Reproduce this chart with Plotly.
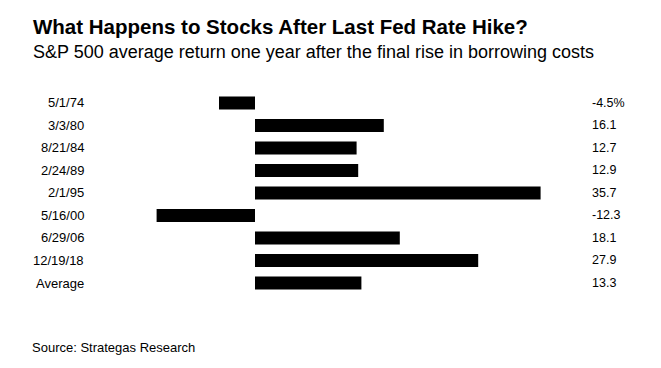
import plotly.graph_objects as go

dates = ["5/1/74", "3/3/80", "8/21/84", "2/24/89", "2/1/95", "5/16/00", "6/29/06", "12/19/18", "Average"]
returns = [-4.5, 16.1, 12.7, 12.9, 35.7, -12.3, 18.1, 27.9, 13.3]
value_labels = ["-4.5%", "16.1", "12.7", "12.9", "35.7", "-12.3", "18.1", "27.9", "13.3"]

W, H = 661, 368
OFF = 8  # page body margin offset
FONT = "Liberation Sans, Arial, sans-serif"


def px(x):
    return (x - OFF) / W


def py(y):
    return 1 - (y - OFF) / H


fig = go.Figure(go.Bar(
    x=returns, y=dates, orientation="h",
    marker=dict(color="#000000", line=dict(width=0)),
    hoverinfo="skip",
))

annotations = []
for d, lab in zip(dates, value_labels):
    annotations.append(dict(x=px(86), xref="paper", y=d, yref="y", text=d, showarrow=False,
                            xanchor="right", yanchor="middle", font=dict(family=FONT, size=13, color="#000")))
    annotations.append(dict(x=px(590), xref="paper", y=d, yref="y", text=lab, showarrow=False,
                            xanchor="left", yanchor="middle", font=dict(family=FONT, size=12.5, color="#000")))

annotations += [
    dict(x=px(31), y=py(26), xref="paper", yref="paper", text="<b>What Happens to Stocks After Last Fed Rate Hike?</b>",
         showarrow=False, xanchor="left", yanchor="middle", font=dict(family=FONT, size=20.5, color="#000")),
    dict(x=px(31), y=py(52), xref="paper", yref="paper", text="S&P 500 average return one year after the final rise in borrowing costs",
         showarrow=False, xanchor="left", yanchor="middle", font=dict(family=FONT, size=18, color="#000")),
    dict(x=px(30), y=py(347), xref="paper", yref="paper", text="Source: Strategas Research",
         showarrow=False, xanchor="left", yanchor="middle", font=dict(family=FONT, size=13, color="#000")),
]

fig.update_layout(
    width=W, height=H,
    margin=dict(l=0, r=0, t=0, b=0),
    paper_bgcolor="white", plot_bgcolor="white",
    showlegend=False,
    bargap=0.42,
    xaxis=dict(range=[-15, 45], domain=[px(135), px(615)], visible=False, fixedrange=True),
    yaxis=dict(categoryorder="array", categoryarray=dates, range=[8.5, -0.5],
               domain=[py(294.25), py(91.75)], visible=False, fixedrange=True),
    annotations=annotations,
)

fig.write_html("out.html")
